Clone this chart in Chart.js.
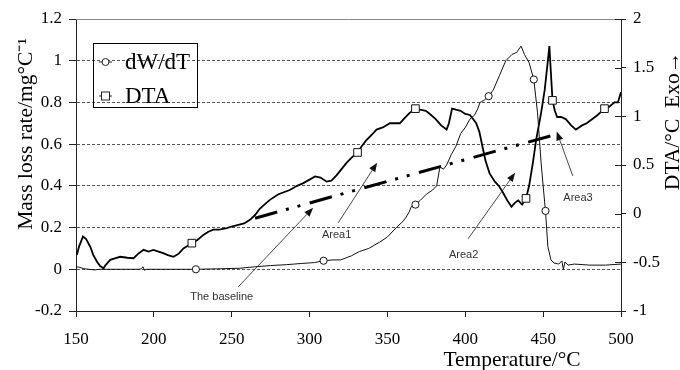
<!DOCTYPE html>
<html><head><meta charset="utf-8">
<script src="https://cdn.jsdelivr.net/npm/chart.js@4.4.0/dist/chart.umd.min.js"></script>
<style>html,body{margin:0;padding:0;background:#fff}#wrap{width:680px;height:370px}</style>
</head><body><div id="wrap"><canvas id="c" width="680" height="370"></canvas></div>
<script>
// ---- data ----
const xTicks = [150,200,250,300,350,400,450,500];
const leftTicks = [-0.2,0,0.2,0.4,0.6,0.8,1,1.2];
const rightTicks = [-1,-0.5,0,0.5,1,1.5,2];

const dwT = [150,152,155,158,162,165,170,180,190,192,193,194,195,210,227,240,255,265,275,285,295,303,309,315,320,327,332,338,345,350,355.7,360,362,364,365.3,368,371,375,379,381.6,383.7,386,388,391,394,397,400,403,406,408,409.5,412,415,418,422,426,430,433,435.8,438,441,444,446.4,448.7,450,451.5,453,455,457,460,462,463,464,466,470,480,490,500];
const dwV = [0.012,0.01,0.003,0,-0.003,0,0,0,0,0.002,0.012,-0.005,0,0,0,0.002,0.005,0.012,0.018,0.022,0.028,0.032,0.041,0.045,0.045,0.065,0.085,0.10,0.13,0.155,0.20,0.23,0.25,0.275,0.30,0.31,0.33,0.36,0.38,0.40,0.49,0.48,0.50,0.55,0.59,0.65,0.68,0.72,0.74,0.77,0.80,0.81,0.83,0.86,0.93,1.0,1.03,1.04,1.07,1.03,0.99,0.91,0.75,0.51,0.40,0.28,0.11,0.045,0.03,0.025,0.04,0.0,0.035,0.02,0.025,0.02,0.02,0.025];
const dwMarkT = [227,309,368,415,444,451.5];

const dtaT = [150.6,152,154.5,156.5,159.2,161,163.5,165.5,167.7,169,172,175,178.4,183,187,190,193.4,196.5,199.7,203,206,209,212.6,216,219,224.4,228,231.8,235,238.2,242,246.8,250,254.2,258,261.7,265,268,271,274.5,280,287.3,292,296,300,303.5,307,311,314,317.3,320.5,323.7,327,330.8,333.5,336.5,340,343,347,351.6,355,358,361,364.3,368,371,374.7,378,381,384.5,388,389.5,391.5,394,397,400,403,405,407,409,411,413,415.6,419,421.5,424,427,429.7,432,434,436.5,439,441,443.4,445.5,448.7,451,452.6,454,455,456,457.5,459,461.5,464.5,468,471,473,475,478,481.6,485,489.4,492.5,495.8,498,500];
const dtaV = [-0.423,-0.336,-0.235,-0.261,-0.340,-0.421,-0.494,-0.539,-0.561,-0.528,-0.475,-0.460,-0.443,-0.453,-0.458,-0.411,-0.372,-0.389,-0.372,-0.389,-0.406,-0.426,-0.443,-0.411,-0.357,-0.303,-0.271,-0.218,-0.186,-0.164,-0.164,-0.149,-0.132,-0.115,-0.100,-0.063,-0.014,0.050,0.093,0.142,0.200,0.243,0.286,0.314,0.350,0.382,0.371,0.329,0.339,0.393,0.457,0.522,0.575,0.629,0.693,0.757,0.811,0.864,0.886,0.929,0.929,0.929,0.982,1.036,1.079,1.068,1.057,1.014,0.972,0.907,0.864,0.929,1.079,1.068,1.057,1.025,1.014,0.972,0.929,0.843,0.693,0.543,0.414,0.329,0.286,0.222,0.136,0.072,0.114,0.136,0.093,0.157,0.286,0.522,0.757,1.036,1.271,1.507,1.721,1.443,1.164,1.057,0.993,0.993,0.972,0.907,0.864,0.886,0.907,0.929,0.972,1.014,1.079,1.100,1.143,1.143,1.250];
const dtaMarkT = [224.4,330.8,368,439,456,489.4];

const baseT = [265,455];
const baseV = [0.245,0.64];

const annoLabels = ['The baseline','Area1','Area2','Area3'];
const annoTextT = [243.6,317.4,398.9,472.4];
const annoTextV = [-0.132,0.165,0.07,0.343];
const arrowFromT = [254.2,318.4,401.8,469];
const arrowFromV = [-0.084,0.223,0.146,0.448];
const arrowToT = [302.3,343.4,432,458.7];
const arrowToV = [0.295,0.511,0.463,0.661];

const leftTitle = 'Mass loss rate/mg\u00B0C\u207B\u00B9';
const rightTitle = 'DTA/\u00B0C  Exo\u2192';
const xTitle = 'Temperature/\u00B0C';

// ---- chart ----
const SERIF = "'Liberation Serif','Times New Roman',serif";
const SANS = "'Liberation Sans',Arial,sans-serif";
const fmt = v => String(Math.round(v*10)/10);

const decor = {
  id:'decor',
  afterDraw(chart){
    const c = chart.ctx, a = chart.chartArea;
    const sx = chart.scales.x, sy = chart.scales.y, sy2 = chart.scales.y2;
    c.save();
    c.strokeStyle = '#888'; c.lineWidth = 1;
    c.beginPath(); c.moveTo(a.left, a.top+0.5); c.lineTo(a.right, a.top+0.5); c.stroke();
    c.strokeStyle = '#222';
    rightTicks.forEach(v=>{
      const y = Math.round(sy2.getPixelForValue(v))+0.5;
      c.beginPath(); c.moveTo(a.right-6, y); c.lineTo(a.right, y); c.stroke();
    });
    c.font = '11px ' + SANS; c.fillStyle = '#333'; c.textAlign='center'; c.textBaseline='middle';
    annoLabels.forEach((t,i)=>{
      c.fillText(t, sx.getPixelForValue(annoTextT[i]), sy.getPixelForValue(annoTextV[i]));
      const x0 = sx.getPixelForValue(arrowFromT[i]), y0 = sy.getPixelForValue(arrowFromV[i]);
      const x1 = sx.getPixelForValue(arrowToT[i]), y1 = sy.getPixelForValue(arrowToV[i]);
      const ang = Math.atan2(y1-y0, x1-x0), L = 9, W = 3.5;
      const bx = x1 - L*Math.cos(ang), by = y1 - L*Math.sin(ang);
      c.strokeStyle = '#333'; c.lineWidth = 0.9;
      c.beginPath(); c.moveTo(x0,y0); c.lineTo(bx,by); c.stroke();
      c.fillStyle = '#111';
      c.beginPath(); c.moveTo(x1,y1);
      c.lineTo(bx + W*Math.sin(ang), by - W*Math.cos(ang));
      c.lineTo(bx - W*Math.sin(ang), by + W*Math.cos(ang));
      c.closePath(); c.fill();
      c.fillStyle = '#333';
    });
    c.strokeStyle = '#000'; c.lineWidth = 1;
    c.strokeRect(93.5, 43.5, 104, 64);
    const ds = chart.data.datasets;
    const rows = [[0, 62],[1, 96]];
    c.font = '23px ' + SERIF; c.fillStyle = '#000'; c.textAlign='left'; c.textBaseline='middle';
    rows.forEach(([di, y])=>{
      c.strokeStyle = '#222'; c.lineWidth = 1;
      c.beginPath(); c.moveTo(99, y); c.lineTo(112, y); c.stroke();
      c.fillStyle = '#fff';
      if (di===0){ c.beginPath(); c.arc(105.5, y, 3.5, 0, Math.PI*2); c.fill(); c.stroke(); }
      else { c.fillRect(101.5, y-4, 8, 8); c.strokeRect(101.5, y-4, 8, 8); }
      c.fillStyle = '#000';
      c.fillText(ds[di].label, 125, y+1);
    });
    c.font = '21.5px ' + SERIF; c.fillStyle = '#000';
    c.textAlign = 'center'; c.textBaseline = 'alphabetic';
    c.fillText(xTitle, 512, 366);
    c.save(); c.translate(31.5, 134); c.rotate(-Math.PI/2); c.fillText(leftTitle, 0, 0); c.restore();
    c.save(); c.translate(679, 121); c.rotate(-Math.PI/2); c.fillText(rightTitle, 0, 0); c.restore();
    c.restore();
  }
};

new Chart(document.getElementById('c'), {
  type:'line',
  data:{datasets:[
    {label:'dW/dT', data: dwT.map((t,i)=>({x:t,y:dwV[i]})), yAxisID:'y',
     borderColor:'#111', borderWidth:1, tension:0,
     pointStyle:'circle', pointRadius: ctx => dwMarkT.includes(dwT[ctx.dataIndex]) ? 3.6 : 0,
     pointBackgroundColor:'#fff', pointBorderColor:'#111', pointBorderWidth:1},
    {label:'DTA', data: dtaT.map((t,i)=>({x:t,y:dtaV[i]})), yAxisID:'y2',
     borderColor:'#000', borderWidth:1.8, tension:0,
     pointStyle:'rect', pointRadius: ctx => dtaMarkT.includes(dtaT[ctx.dataIndex]) ? 5.4 : 0,
     pointBackgroundColor:'#fff', pointBorderColor:'#111', pointBorderWidth:1},
    {label:'baseline', data: baseT.map((t,i)=>({x:t,y:baseV[i]})), yAxisID:'y',
     borderColor:'#000', borderWidth:3, borderDash:[23,9,3,9,3,9.7], borderCapStyle:'butt',
     pointRadius:0, tension:0}
  ]},
  options:{
    responsive:false, animation:false,
    layout:{padding:{top:19,left:0,right:0,bottom:0}},
    plugins:{legend:{display:false}, tooltip:{enabled:false}},
    scales:{
      x:{type:'linear', min:150, max:500,
        afterBuildTicks: s => { s.ticks = xTicks.map(v=>({value:v})); },
        afterFit: s => { s.height = 59; },
        ticks:{font:{family:SERIF,size:17}, color:'#000', padding:12, maxRotation:0, autoSkip:false},
        grid:{drawOnChartArea:false, drawTicks:true, tickLength:6, tickColor:'#222'},
        border:{display:true, color:'#222'}},
      y:{position:'left', min:-0.2, max:1.2,
        afterBuildTicks: s => { s.ticks = leftTicks.map(v=>({value:v})); },
        afterFit: s => { s.width = 76; },
        ticks:{font:{family:SERIF,size:17}, color:'#000', padding:7, callback: v => fmt(v), autoSkip:false},
        grid:{color: c => (c.tick && (Math.abs(c.tick.value-1.2)<1e-6 || Math.abs(c.tick.value+0.2)<1e-6)) ? 'rgba(0,0,0,0)' : '#555',
              tickColor:'#222', tickLength:7, tickBorderDash:[], lineWidth:1},
        border:{display:true, color:'#222', dash:[3,2]}},
      y2:{position:'right', min:-1, max:2,
        afterBuildTicks: s => { s.ticks = rightTicks.map(v=>({value:v})); },
        afterFit: s => { s.width = 59; },
        ticks:{font:{family:SERIF,size:17}, color:'#000', padding:7, callback: v => fmt(v), autoSkip:false},
        grid:{drawOnChartArea:false, tickLength:5, tickColor:'#222'},
        border:{display:true, color:'#222'}}
    }
  },
  plugins:[decor]
});
</script></body></html>
